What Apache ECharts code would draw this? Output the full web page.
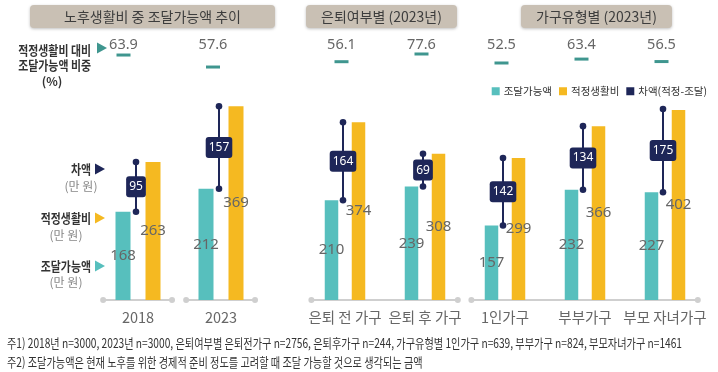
<!DOCTYPE html>
<html>
<head>
<meta charset="utf-8">
<script src="https://cdn.jsdelivr.net/npm/echarts@6/dist/echarts.min.js"></script>
<style>
  html, body { margin: 0; padding: 0; background: #fff; }
  #main { width: 718px; height: 372px; }
</style>
</head>
<body>
<div id="main"></div>
<script>
// 노후생활비 중 조달가능액 추이
var trendCats = ['2018', '2023'];
var trendFund = [168, 212];     // 조달가능액
var trendNeed = [263, 369];     // 적정생활비
var trendGap = [95, 157];       // 차액
var trendRatio = [63.9, 57.6];  // 적정생활비 대비 조달가능액 비중(%)

// 은퇴여부별 / 가구유형별 (2023년)
var groupCats = ['은퇴 전 가구', '은퇴 후 가구', '1인가구', '부부가구', '부모 자녀가구'];
var groupFund = [210, 239, 157, 232, 227];
var groupNeed = [374, 308, 299, 366, 402];
var groupGap = [164, 69, 142, 134, 175];
var groupRatio = [56.1, 77.6, 52.5, 63.4, 56.5];

// x축 구간 (시작 카테고리, 끝 카테고리)
var trendSegs = [[0, 0], [1, 1]];
var groupSegs = [[0, 1], [2, 4]];

var C_FUND = '#57bfbd';
var C_NEED = '#f5b921';
var C_GAP = '#1e2658';
var C_DASH = '#3f968f';
var C_AXIS = '#cfcfcf';
var KR = '"Noto Sans CJK KR", "Noto Sans", sans-serif';
var NUM = '"Noto Sans", "Noto Sans CJK KR", sans-serif';

var chart = echarts.init(document.getElementById('main'));

function measure(text, font) {
  var ctx = document.createElement('canvas').getContext('2d');
  ctx.font = font;
  return ctx.measureText(text).width;
}

// 차액 표시 (선 + 점 + 라벨 박스)
function gapItem(params, api) {
  var cat = api.value(0);
  var x = api.coord([cat, 0])[0] - 2;
  var yLow = api.coord([cat, api.value(1)])[1];
  var yHigh = api.coord([cat, api.value(2)])[1];
  var mid = (yLow + yHigh) / 2;
  return {
    type: 'group',
    children: [
      { type: 'line', shape: { x1: x, y1: yHigh, x2: x, y2: yLow }, style: { stroke: C_GAP, lineWidth: 2 } },
      { type: 'circle', shape: { cx: x, cy: yHigh, r: 3.3 }, style: { fill: C_GAP } },
      { type: 'circle', shape: { cx: x, cy: yLow, r: 3.3 }, style: { fill: C_GAP } },
      {
        type: 'text', x: x, y: mid,
        style: {
          text: String(api.value(3)), fill: '#fff', font: '12px ' + NUM,
          align: 'center', verticalAlign: 'middle',
          backgroundColor: C_GAP, padding: [5, 3, 4, 3], borderRadius: 3
        }
      }
    ]
  };
}

// 비중(%) 대시 + 숫자
var RATIO_TEXT_Y = 45;
function ratioItem(params, api) {
  var p = api.coord([api.value(0), api.value(1)]);
  return {
    type: 'group',
    children: [
      { type: 'rect', shape: { x: p[0] - 7, y: p[1] - 1.5, width: 14, height: 3 }, style: { fill: C_DASH } },
      {
        type: 'text', x: p[0], y: RATIO_TEXT_Y,
        style: { text: api.value(1).toFixed(1), fill: '#666', font: '14.5px ' + NUM, align: 'center', verticalAlign: 'middle' }
      }
    ]
  };
}

// x축 구간 선
function segItem(params, api) {
  var w = api.size([1, 0])[0];
  var y = api.coord([0, 0])[1];
  var x1 = api.coord([api.value(0), 0])[0] - w * 0.42;
  var x2 = api.coord([api.value(1), 0])[0] + w * 0.41;
  return {
    type: 'group',
    children: [
      { type: 'line', shape: { x1: x1, y1: y, x2: x2, y2: y }, style: { stroke: C_AXIS, lineWidth: 2 } },
      { type: 'circle', shape: { cx: x1, cy: y, r: 3 }, style: { fill: C_AXIS } },
      { type: 'circle', shape: { cx: x2, cy: y, r: 3 }, style: { fill: C_AXIS } }
    ]
  };
}

function gapData(fund, need, gap) {
  return fund.map(function (v, i) { return [i, v, need[i], gap[i]]; });
}
function ratioData(r) {
  return r.map(function (v, i) { return [i, v]; });
}

var barLabel = { show: true, position: 'inside', color: '#666', fontSize: 15, fontFamily: NUM };

// 주석
var note1 = '주1) 2018년 n=3000, 2023년 n=3000, 은퇴여부별 은퇴전가구 n=2756, 은퇴후가구 n=244, 가구유형별 1인가구 n=639, 부부가구 n=824, 부모자녀가구 n=1461';
var note2 = '주2) 조달가능액은 현재 노후를 위한 경제적 준비 정도를 고려할 때 조달 가능할 것으로 생각되는 금액';
var noteFont = '13px ' + KR;
var noteScale = 675 / measure(note1, noteFont);

var labFont = 'bold 13px ' + KR;
function sideLabel(text, y, bold) {
  return {
    type: 'text', x: 91, y: y, scaleX: 0.84,
    style: { text: text, font: bold ? labFont : '12px ' + KR, fill: bold ? '#333' : '#888', align: 'right', verticalAlign: 'middle' }
  };
}
function unitLabel(x, y) {
  return {
    type: 'text', x: x, y: y,
    style: { text: '(만 원)', font: '12px ' + KR, fill: '#888', align: 'center', verticalAlign: 'middle' }
  };
}
function tri(x, y, color) {
  return { type: 'polygon', shape: { points: [[x, y - 5.5], [x + 10, y], [x, y + 5.5]] }, style: { fill: color } };
}
function titleBox(x, w, text) {
  return {
    type: 'group', children: [
      { type: 'rect', shape: { x: x, y: 5, width: w, height: 23, r: 4 },
        style: { fill: '#c9c0b4', shadowBlur: 3, shadowColor: 'rgba(0,0,0,0.25)', shadowOffsetY: 1 } },
      { type: 'text', x: x + w / 2, y: 16.5,
        style: { text: text, font: '14px ' + KR, fill: '#3d3d3d', align: 'center', verticalAlign: 'middle' } }
    ]
  };
}

var option = {
  animation: false,
  backgroundColor: '#fff',
  textStyle: { fontFamily: KR },
  legend: {
    data: [
      { name: '조달가능액', icon: 'rect' },
      { name: '적정생활비', icon: 'rect' },
      { name: '차액(적정-조달)', icon: 'rect' }
    ],
    right: 6, top: 81,
    itemWidth: 8, itemHeight: 8, itemGap: 7,
    textStyle: { fontSize: 10.5, color: '#333', padding: [0, 0, 0, -1] }
  },
  grid: [
    { left: 96.5, top: 90, width: 166, height: 210 },
    { left: 305, top: 110, width: 400, height: 190 },
    { left: 78.75, top: 39.6, width: 179, height: 41.9 },
    { left: 301.5, top: 49.55, width: 400, height: 17.93 }
  ],
  xAxis: [
    { gridIndex: 0, type: 'category', data: trendCats, axisLine: { show: false }, axisTick: { show: false },
      axisLabel: { color: '#666', fontSize: 14.5, margin: 10, fontFamily: KR } },
    { gridIndex: 1, type: 'category', data: groupCats, axisLine: { show: false }, axisTick: { show: false },
      axisLabel: { color: '#666', fontSize: 14.5, margin: 10, fontFamily: KR, interval: 0 } },
    { gridIndex: 2, type: 'category', data: trendCats, show: false },
    { gridIndex: 3, type: 'category', data: groupCats, show: false }
  ],
  yAxis: [
    { gridIndex: 0, type: 'value', min: 0, max: 400, show: false },
    { gridIndex: 1, type: 'value', min: 0, max: 400, show: false },
    { gridIndex: 2, type: 'value', min: 50, max: 72, show: false },
    { gridIndex: 3, type: 'value', min: 40, max: 90, show: false }
  ],
  series: [
    { type: 'custom', xAxisIndex: 0, yAxisIndex: 0, renderItem: segItem, data: trendSegs, z: 1, silent: true },
    { type: 'custom', xAxisIndex: 1, yAxisIndex: 1, renderItem: segItem, data: groupSegs, z: 1, silent: true },
    { name: '조달가능액', type: 'bar', xAxisIndex: 0, yAxisIndex: 0, data: trendFund, barWidth: 15, barGap: '100%',
      itemStyle: { color: C_FUND }, label: barLabel, z: 2 },
    { name: '적정생활비', type: 'bar', xAxisIndex: 0, yAxisIndex: 0, data: trendNeed, barWidth: 15, barGap: '100%',
      itemStyle: { color: C_NEED }, label: barLabel, z: 2 },
    { name: '조달가능액', type: 'bar', xAxisIndex: 1, yAxisIndex: 1, data: groupFund, barWidth: 13.5, barGap: '100%',
      itemStyle: { color: C_FUND }, label: barLabel, z: 2 },
    { name: '적정생활비', type: 'bar', xAxisIndex: 1, yAxisIndex: 1, data: groupNeed, barWidth: 13.5, barGap: '100%',
      itemStyle: { color: C_NEED }, label: barLabel, z: 2 },
    { name: '차액(적정-조달)', type: 'custom', xAxisIndex: 0, yAxisIndex: 0, renderItem: gapItem,
      data: gapData(trendFund, trendNeed, trendGap), itemStyle: { color: C_GAP }, z: 5 },
    { name: '차액(적정-조달)', type: 'custom', xAxisIndex: 1, yAxisIndex: 1, renderItem: gapItem,
      data: gapData(groupFund, groupNeed, groupGap), itemStyle: { color: C_GAP }, z: 5 },
    { type: 'custom', xAxisIndex: 2, yAxisIndex: 2, renderItem: ratioItem, data: ratioData(trendRatio), z: 3 },
    { type: 'custom', xAxisIndex: 3, yAxisIndex: 3, renderItem: ratioItem, data: ratioData(groupRatio), z: 3 }
  ],
  graphic: [
    titleBox(30, 245, '노후생활비 중 조달가능액 추이'),
    titleBox(306, 151, '은퇴여부별 (2023년)'),
    titleBox(521, 151, '가구유형별 (2023년)'),
    sideLabel('적정생활비 대비', 50, true),
    tri(97, 48, C_DASH),
    sideLabel('조달가능액 비중', 65, true),
    { type: 'text', x: 52, y: 81, style: { text: '(%)', font: 'bold 12px ' + KR, fill: '#333', align: 'center', verticalAlign: 'middle' } },
    sideLabel('차액', 169, true),
    tri(95, 169, C_GAP),
    unitLabel(81, 186),
    sideLabel('적정생활비', 218, true),
    tri(95, 218, C_NEED),
    unitLabel(66, 235),
    sideLabel('조달가능액', 266, true),
    tri(95, 266, C_FUND),
    unitLabel(66, 282),
    { type: 'text', x: 7, y: 343, scaleX: noteScale,
      style: { text: note1, font: noteFont, fill: '#333', verticalAlign: 'middle' } },
    { type: 'text', x: 7, y: 362, scaleX: noteScale,
      style: { text: note2, font: noteFont, fill: '#333', verticalAlign: 'middle' } }
  ]
};

chart.setOption(option);
</script>
</body>
</html>
